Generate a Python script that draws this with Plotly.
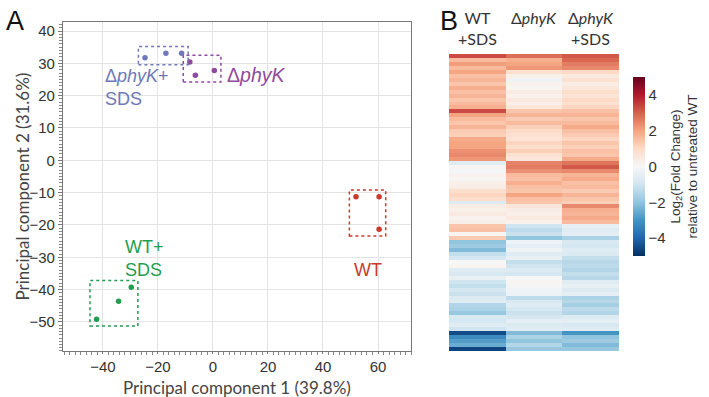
import plotly.graph_objects as go

# ---------------- PCA data ----------------
groups = ["ΔphyK+SDS", "ΔphyK", "WT", "WT+SDS"]
pc1_dphyk_sds = [-24.7, -17.1, -11.4]
pc2_dphyk_sds = [31.7, 33.1, 33.1]
pc1_dphyk = [-8.4, -6.4, 0.5]
pc2_dphyk = [30.4, 26.3, 27.8]
pc1_wt = [52.0, 60.4, 60.4]
pc2_wt = [-11.3, -11.3, -21.3]
pc1_wt_sds = [-42.3, -34.3, -29.7]
pc2_wt_sds = [-49.2, -43.6, -39.3]

group_colors = ["#6f78b8", "#8e4a9e", "#c8392e", "#1f9e4f"]
group_labels = ["Δ<i>phyK</i>+<br>SDS", "Δ<i>phyK</i>", "WT", "WT+<br>SDS"]
label_sizes = [18, 19.5, 18, 18]
label_pos_x = [-40, 4.2, 50.5, -32.7]
label_pos_y = [22.6, 26.4, -34.0, -30.3]

# ---------------- Heatmap data ----------------
heat_columns = ["WT<br>+SDS", "Δ<i>phyK</i>", "Δ<i>phyK</i><br>+SDS"]
wt_sds = [3.3, 1.6, 2.1, 1.6, 2.0, 1.5, 1.7, 1.4, 1.8, 1.5, 1.7, 1.4, 1.6, 1.8, 3.3, 2.0, 1.6, 1.4, 1.7,
          1.3, 1.2, 1.9, 2.0, 2.0, 2.3, 2.4, 2.2, -0.6, 0.1, -0.1, 0.2, 0.1, 0.3, 0.4, 0.9, 1.1, 0.9,
          -0.7, 0.4, 0.3, 0.5, 0.2, 0.3, 1.4, 1.5, 0.1, 1.3, -2.0, -1.8, -2.2, -1.2, -0.9, 0.0, 0.1,
          -0.6, -0.8, -0.4, -1.0, -1.2, -0.9, -1.1, -0.7, -0.6, -1.5, -1.6, -1.9, -0.8, -0.9, -0.6,
          -1.0, -4.5, -3.2, -2.8, -2.5, -4.6]
dphyk = [2.8, 1.8, 2.0, 2.2, 0.8, 0.3, -0.2, 0.2, 0.1, 0.4, 0.2, 0.5, 0.3, 0.6, 1.4, 1.7, 1.3, 1.6, 1.2,
         1.0, 0.8, 0.7, 1.1, 0.9, 1.2, 0.8, 0.6, 2.5, 2.6, 2.3, 1.6, 1.5, 1.8, 1.5, 1.4, 2.0, 1.5,
         1.4, 0.6, 0.4, 0.3, 0.5, 0.2, -1.0, -1.3, -1.1, -2.0, -0.3, -0.5, -0.2, -0.6, -0.4, -1.2,
         -1.0, -0.7, -0.9, 0.0, 0.1, -0.1, -0.2, -0.3, -1.3, -0.8, -0.6, -0.9, -1.1, -0.9, -0.5,
         -0.7, -0.6, -2.2, -1.6, -2.0, -1.5, -1.9]
dphyk_sds = [3.1, 2.9, 2.6, 2.4, 1.0, 0.5, 0.8, 0.4, 0.6, 0.9, 0.7, 1.0, 0.8, 1.1, 1.5, 1.7, 1.4, 1.6, 1.9,
             1.5, 1.3, 1.1, 1.4, 1.2, 1.5, 1.4, 1.9, 2.7, 3.1, 2.4, 1.7, 1.9, 1.5, 1.6, 1.3, 1.7, 1.4,
             1.2, 2.4, 1.8, 1.7, 1.9, 1.6, -0.4, -0.6, -0.5, -1.6, -0.8, -0.9, -0.6, -0.7, -1.2, -1.4,
             -1.3, -1.5, -1.2, -1.4, -0.6, -0.4, -0.7, -0.5, -1.6, -1.4, -1.7, -1.3, -1.5, -0.7, -0.5,
             -0.8, -0.6, -3.0, -2.0, -1.8, -2.2, -1.9]
colorbar_ticks = [-4, -2, 0, 2, 4]

rdbu = ['rgb(5,48,97)', 'rgb(33,102,172)', 'rgb(67,147,195)', 'rgb(146,197,222)', 'rgb(209,229,240)',
        'rgb(247,247,247)', 'rgb(253,219,199)', 'rgb(244,165,130)', 'rgb(214,96,77)', 'rgb(178,24,43)',
        'rgb(103,0,31)']
cscale = [[i / (len(rdbu) - 1), c] for i, c in enumerate(rdbu)]

TICKFONT = dict(family="Liberation Sans, Arial", size=15, color="#333")
TITLEFONT = dict(family="Lato, sans-serif", size=17, color="#444")

fig = go.Figure()

xs = [pc1_dphyk_sds, pc1_dphyk, pc1_wt, pc1_wt_sds]
ys = [pc2_dphyk_sds, pc2_dphyk, pc2_wt, pc2_wt_sds]
padx, pady = 2.4, 2.1
for name, x, y, col, lab, ls, lx, ly in zip(groups, xs, ys, group_colors, group_labels, label_sizes,
                                            label_pos_x, label_pos_y):
    fig.add_trace(go.Scatter(x=x, y=y, mode="markers", name=name, showlegend=False,
                             marker=dict(color=col, size=5.5), xaxis="x", yaxis="y"))
    fig.add_shape(type="rect", xref="x", yref="y",
                  x0=min(x) - padx, x1=max(x) + padx, y0=min(y) - pady, y1=max(y) + pady,
                  line=dict(color=col, width=1.5, dash="dot"))
    fig.add_annotation(x=lx, y=ly, xref="x", yref="y", text=lab, showarrow=False,
                       xanchor="left", yanchor="middle", align="left",
                       font=dict(family="Liberation Sans, Arial", size=ls, color=col))

rows = list(range(len(wt_sds)))
z = [[a, b, c] for a, b, c in zip(wt_sds, dphyk, dphyk_sds)]
fig.add_trace(go.Heatmap(z=z, x=[0, 1, 2], y=rows, xaxis="x2", yaxis="y2",
                         colorscale=cscale, zmin=-5, zmax=5,
                         colorbar=dict(x=0.893, xanchor="left", y=0.5806, yanchor="middle",
                                       len=0.451, lenmode="fraction", thickness=12, xpad=0, ypad=0,
                                       outlinewidth=0, tickvals=colorbar_ticks, ticks="",
                                       tickfont=dict(family="Liberation Sans, Arial", size=15, color="#333"),
                                       title=dict(text="Log<sub>2</sub>(Fold Change)<br>relative to untreated WT",
                                                  side="right",
                                                  font=dict(family="Liberation Sans, Arial", size=13.5, color="#333")))))

for i, h in enumerate(heat_columns):
    fig.add_annotation(x=i, y=1.0, xref="x2", yref="paper", text=h, showarrow=False,
                       yanchor="top", xanchor="center", align="center",
                       font=dict(family="Lato, sans-serif", size=16, color="#333"), yshift=-6)

fig.add_annotation(x=0.005, y=0.99, xref="paper", yref="paper", text="A", showarrow=False,
                   xanchor="left", yanchor="top", font=dict(family="Liberation Sans, Arial", size=27, color="#111"))
fig.add_annotation(x=0.618, y=0.99, xref="paper", yref="paper", text="B", showarrow=False,
                   xanchor="left", yanchor="top", font=dict(family="Liberation Sans, Arial", size=27, color="#111"))

# axis titles
fig.add_annotation(x=0.5, y=0.0, xref="x domain", yref="paper", text="Principal component 1 (39.8%)",
                   showarrow=False, xanchor="center", yanchor="bottom", yshift=-2, borderpad=0,
                   font=TITLEFONT)
fig.add_annotation(x=22 / 709, y=0.5, xref="paper", yref="y domain", text="Principal component 2 (31.6%)",
                   showarrow=False, xanchor="center", yanchor="middle", textangle=-90, font=TITLEFONT)

fig.update_layout(
    width=709, height=397, margin=dict(l=0, r=0, t=0, b=0, autoexpand=False),
    paper_bgcolor="white", plot_bgcolor="white",
    xaxis=dict(domain=[0.0889, 0.5797], range=[-54.5, 72], dtick=20, tick0=0,
               showgrid=True, gridcolor="#e3e3e3", zeroline=False,
               showline=True, linecolor="#777", linewidth=1.2, mirror=True,
               ticks="outside", ticklen=2, tickcolor="#777",
               minor=dict(dtick=2, ticks="outside", ticklen=3, tickcolor="#888", showgrid=False),
               tickfont=TICKFONT),
    yaxis=dict(domain=[0.1159, 0.9446], range=[-59, 42.8], dtick=10, tick0=0, anchor="x",
               showgrid=True, gridcolor="#e3e3e3", zeroline=False,
               showline=True, linecolor="#777", linewidth=1.2, mirror=True,
               ticks="outside", ticklen=4, tickcolor="#777",
               minor=dict(dtick=1, ticks="outside", ticklen=3, tickcolor="#888", showgrid=False),
               tickfont=TICKFONT),
    xaxis2=dict(domain=[0.6333, 0.8731], anchor="y2", visible=False, range=[-0.5, 2.5]),
    yaxis2=dict(domain=[0.1159, 0.864], anchor="x2", visible=False, autorange="reversed"),
)

fig.write_html("out.html", config={"displayModeBar": False},
               post_script="document.body.style.margin='0';document.body.style.overflow='hidden';")
